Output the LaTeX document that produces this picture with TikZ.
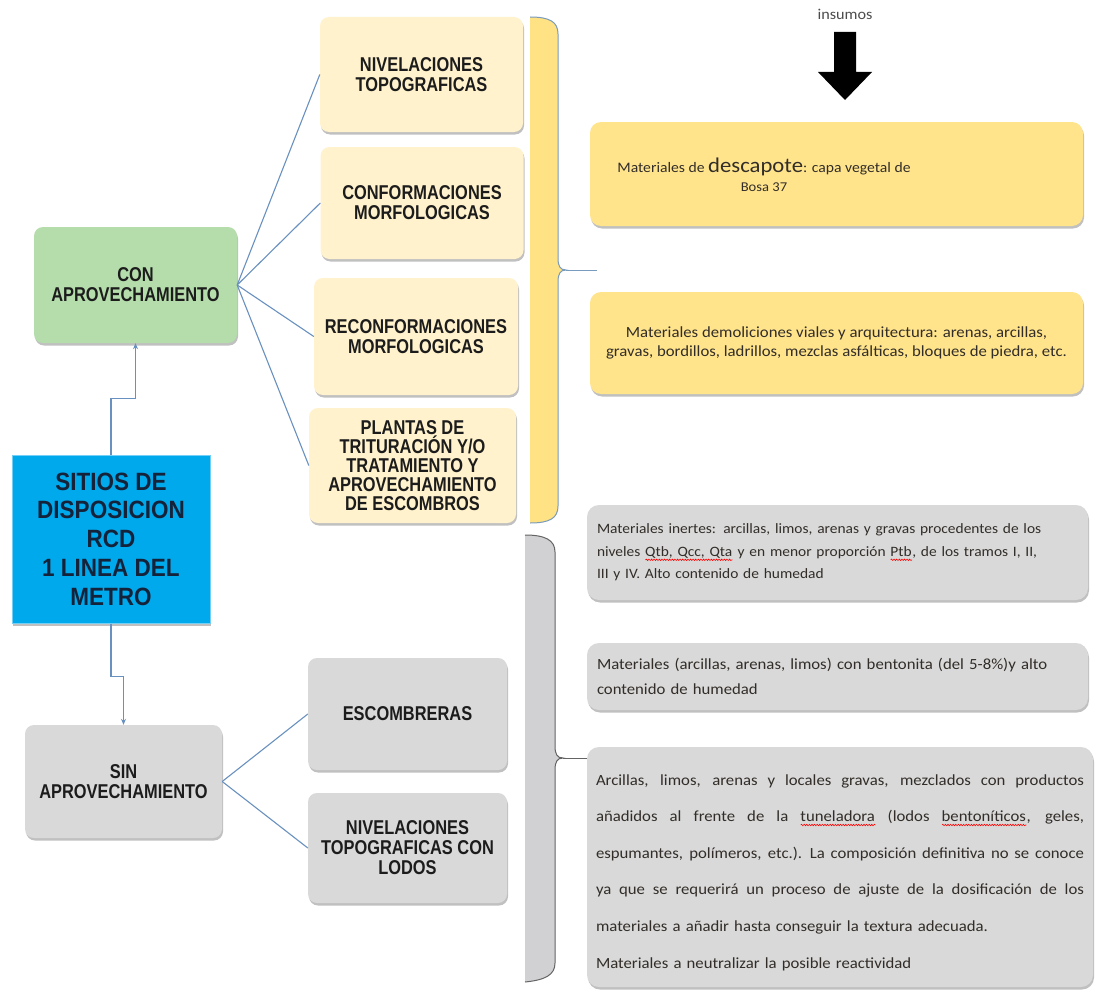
\documentclass[tikz,border=0pt]{standalone}
\usepackage{fontspec}
\usetikzlibrary{shadows,arrows.meta,calc,decorations.pathmorphing}
\newfontfamily\bodyfont{Carlito}[FakeStretch=1.08]
\newfontfamily\titlefont{Liberation Sans}[FakeStretch=0.82]
\newfontfamily\sitfont{Liberation Sans}[FakeStretch=0.9]
\newlength\rwlen
\newcommand\redwave[1]{\settowidth\rwlen{#1}\rlap{#1}\tikz[baseline=0pt]\draw[red,sharp corners,line width=0.6pt,decorate,decoration={snake,amplitude=0.7pt,segment length=2.6pt}] (0pt,-3.5pt) -- (\rwlen,-3.5pt);}
\newcommand\just[1]{\makebox[488pt][s]{\spaceskip=.226em plus 3em\relax #1}}
\definecolor{conn}{RGB}{105,145,192}
\definecolor{cream}{RGB}{255,242,204}
\definecolor{greenbox}{RGB}{181,221,171}
\definecolor{bluebox}{RGB}{0,168,236}
\definecolor{yelbox}{RGB}{255,228,140}
\definecolor{yelbar}{RGB}{255,226,132}
\definecolor{graybox}{RGB}{217,217,217}
\definecolor{graybar}{RGB}{209,208,211}
\definecolor{gbrace}{RGB}{100,100,100}
\definecolor{ybrace}{RGB}{120,155,190}
\definecolor{titletext}{RGB}{28,28,28}
\definecolor{sittext}{RGB}{20,35,58}
\definecolor{bodytext}{RGB}{50,45,40}
\tikzset{
  shad/.style={drop shadow={shadow xshift=1pt,shadow yshift=-2.5pt,opacity=0.35,fill=black!70}},
  box/.style={rounded corners=9pt, inner sep=0pt, align=center, shad},
  title/.style={font=\titlefont\bfseries\fontsize{20}{20}\selectfont, text=titletext},
  creambox/.style={box, title, fill=cream},
  greenbx/.style={box, title, fill=greenbox},
  greybx/.style={box, title, fill=graybox},
  sitbox/.style={fill=bluebox, draw=bluebox!55!white, line width=1pt, inner sep=0pt, align=center,
     font=\sitfont\bfseries\fontsize{25}{28.7}\selectfont, text=sittext, shad},
  body/.style={font=\bodyfont\fontsize{15.5}{22.5}\selectfont, text=bodytext},
  ybox/.style={rounded corners=11pt, fill=yelbox, inner sep=0pt, shad},
  gbox/.style={rounded corners=12pt, fill=graybox, shad},
  conn/.style={draw=conn, line width=1.1pt},
  connarrow/.style={conn, -{Stealth[length=6pt,width=5pt]}},
  ybr/.style={draw=ybrace, line width=1pt},
  gbr/.style={draw=gbrace, line width=1pt}
}
\begin{document}
\begin{tikzpicture}[x=1pt,y=-1pt]
\useasboundingbox (0,0) rectangle (1098,990);
\fill[white] (0,0) rectangle (1098,990);

% yellow brace
\fill[yelbar] (530,17) .. controls (550,17) and (558,22) .. (558,34) -- (558,258)
  .. controls (558,266) and (560,270) .. (566,270) .. controls (560,270) and (558,274) .. (558,282)
  -- (558,506) .. controls (558,518) and (550,523) .. (530,523) -- cycle;
\draw[ybr] (530,17) .. controls (550,17) and (558,22) .. (558,34) -- (558,258)
  .. controls (558,266) and (560,270) .. (566,270) .. controls (560,270) and (558,274) .. (558,282)
  -- (558,506) .. controls (558,518) and (550,523) .. (530,523);
\coordinate (ytip) at (566,270);
\coordinate (yend) at (597,270);
\draw[ybr] (ytip) -- (yend);

% gray brace
\fill[graybar] (525,535) .. controls (545,535) and (555,540) .. (555,552) -- (555,746)
  .. controls (555,754) and (557,758) .. (563,758) .. controls (557,758) and (555,762) .. (555,770)
  -- (555,963) .. controls (555,975) and (545,980) .. (525,982) -- cycle;
\draw[gbr] (525,535) .. controls (545,535) and (555,540) .. (555,552) -- (555,746)
  .. controls (555,754) and (557,758) .. (563,758) .. controls (557,758) and (555,762) .. (555,770)
  -- (555,963) .. controls (555,975) and (545,980) .. (525,982);
\coordinate (gtip) at (563,758);
\coordinate (gend) at (590,758);
\draw[gbr] (gtip) -- (gend);

% left column
\node[greenbx, minimum width=203pt, minimum height=116pt] (con) at (135.5,285) {CON\\APROVECHAMIENTO};
\node[sitbox, minimum width=198pt, minimum height=168pt] (sitios) at (111,539)
  {SITIOS DE\\DISPOSICION\\RCD\\1 LINEA DEL\\METRO};
\node[greybx, minimum width=197pt, minimum height=113pt] (sin) at (123.5,781.5) {SIN\\APROVECHAMIENTO};

% cream boxes
\node[creambox, minimum width=203pt, minimum height=115pt] (niv) at (421.5,74.5) {NIVELACIONES\\TOPOGRAFICAS};
\node[creambox, minimum width=203pt, minimum height=112pt] (conf) at (422,203) {CONFORMACIONES\\MORFOLOGICAS};
\node[creambox, minimum width=204pt, minimum height=117pt] (reconf) at (416,336.5) {RECONFORMACIONES\\MORFOLOGICAS};
\node[creambox, minimum width=207pt, minimum height=115pt, font=\titlefont\bfseries\fontsize{20}{19}\selectfont] (plantas) at (412.5,465.5)
  {PLANTAS DE\\TRITURACIÓN Y/O\\TRATAMIENTO Y\\APROVECHAMIENTO\\DE ESCOMBROS};

% gray title boxes
\node[greybx, minimum width=199pt, minimum height=112pt] (escomb) at (407.5,714) {ESCOMBRERAS};
\node[greybx, minimum width=199pt, minimum height=110pt] (lodos) at (407.5,848) {NIVELACIONES\\TOPOGRAFICAS CON\\LODOS};

% insumos + arrow
\node[font=\bodyfont\fontsize{15}{15}\selectfont, text=black!70] (ins) at (845,14) {insumos};
\fill[black] (834,32) -- (856,32) -- (856,72) -- (872,72) -- (845,100) -- (818,72) -- (834,72) -- cycle;

% yellow text boxes
\node[ybox, minimum width=493pt, minimum height=104pt] (desc) at (836.5,174) {};
\node[body, align=center, font=\bodyfont\fontsize{14.5}{19}\selectfont] (desctxt) at (764,175)
  {Materiales de {\fontsize{21}{19}\selectfont descapote}: capa vegetal de\\{\fontsize{13.5}{19}\selectfont Bosa 37}};
\node[ybox, body, align=center, minimum width=493pt, minimum height=102pt,
  font=\bodyfont\fontsize{15.5}{19.5}\selectfont] (demol) at (836.5,343)
  {Materiales demoliciones viales y arquitectura: arenas, arcillas,\\gravas, bordillos, ladrillos, mezclas asfálticas, bloques de piedra, etc.};

% gray text boxes
\node[gbox, body, align=left, text width=481pt, inner xsep=10pt, inner ysep=0pt, minimum height=95pt,
  font=\bodyfont\fontsize{14.3}{22.5}\selectfont] (inertes) at (837.5,552.5)
  {Materiales inertes: arcillas, limos, arenas y gravas procedentes de los\\
   niveles \redwave{Qtb, Qcc, Qta} y en menor proporción \redwave{Ptb}, de los tramos I, II,\\
   III y IV. Alto contenido de humedad};
\node[gbox, body, align=left, text width=481pt, inner xsep=10pt, inner ysep=0pt, minimum height=67pt,
  font=\bodyfont\fontsize{15.5}{25}\selectfont] (bento) at (837.5,676.5)
  {Materiales (arcillas, arenas, limos) con bentonita (del 5-8\%)y alto\\contenido de humedad};
\node[gbox, body, align=left, text width=488pt, inner xsep=9pt, inner ysep=0pt, minimum height=240pt,
  font=\bodyfont\fontsize{15.5}{36.5}\selectfont] (arc) at (840,867)
  {\rule{0pt}{22pt}\just{Arcillas, limos, arenas y locales gravas, mezclados con productos}\\
   \just{añadidos al frente de la \redwave{tuneladora} (lodos \redwave{bentoníticos}, geles,}\\
   \just{espumantes, polímeros, etc.). La composición definitiva no se conoce}\\
   \just{ya que se requerirá un proceso de ajuste de la dosificación de los}\\
   materiales a añadir hasta conseguir la textura adecuada.\\[1pt]
   Materiales a neutralizar la posible reactividad};

% connectors
\draw[conn] (con.east) -- (niv.west);
\draw[conn] (con.east) -- (conf.west);
\draw[conn] (con.east) -- (reconf.west);
\draw[conn] (con.east) -- (plantas.west);
\draw[conn] (sin.east) -- (escomb.west);
\draw[conn] (sin.east) -- (lodos.west);
\draw[connarrow] (sitios.north) |- ($(con.south)+(0,55)$) -- (con.south);
\draw[connarrow] (sitios.south) |- ($(sin.north)+(0,-48)$) -- (sin.north);
\end{tikzpicture}
\end{document}
